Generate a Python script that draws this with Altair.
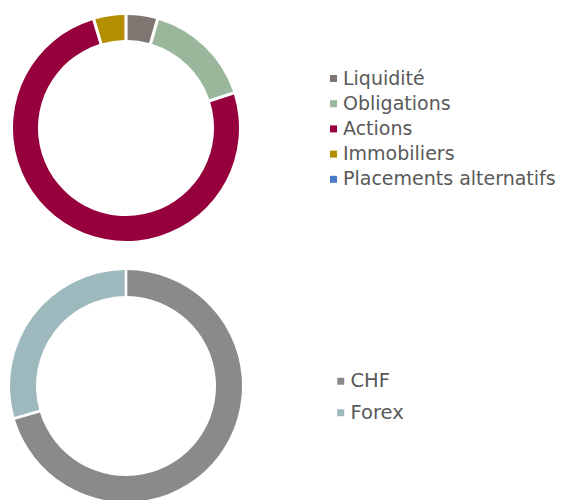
import altair as alt
import pandas as pd

alloc_cats = ["Liquidité", "Obligations", "Actions", "Immobiliers", "Placements alternatifs"]
alloc_vals = [4.5, 15.5, 75.4, 4.6, 0.0]
alloc_colors = ["#7f7672", "#9bb79b", "#96003c", "#b38f00", "#4a7bc8"]

cur_cats = ["CHF", "Forex"]
cur_vals = [70.5, 29.5]
cur_colors = ["#8a8a8a", "#9eb9bd"]

df_alloc = pd.DataFrame({"cat": alloc_cats, "val": alloc_vals, "idx": range(len(alloc_cats))})
df_cur = pd.DataFrame({"cat": cur_cats, "val": cur_vals, "idx": range(len(cur_cats))})

FONT = "DejaVu Sans"

def legend(x, y, row_pad, offset, fs):
    return alt.Legend(
        title=None, orient="none", legendX=x, legendY=y,
        symbolType="square", symbolSize=49, symbolStrokeWidth=0,
        labelFont=FONT, labelFontSize=fs, labelColor="#595959", labelLimit=0,
        rowPadding=row_pad, labelOffset=offset, padding=0,
    )

top = alt.Chart(df_alloc).mark_arc(radius=113, radius2=88, padAngle=0.022).encode(
    theta=alt.Theta("val:Q", stack=True),
    order=alt.Order("idx:Q"),
    color=alt.Color("cat:N", scale=alt.Scale(domain=alloc_cats, range=alloc_colors),
                    sort=alloc_cats, legend=legend(316, 61, 5.2, 0, 19)),
    x=alt.value(118), y=alt.value(120),
)

bottom = alt.Chart(df_cur).mark_arc(radius=116, radius2=90, padAngle=0.018).encode(
    theta=alt.Theta("val:Q", stack=True),
    order=alt.Order("idx:Q"),
    color=alt.Color("cat:N", scale=alt.Scale(domain=cur_cats, range=cur_colors),
                    sort=cur_cats, legend=legend(323, 363.5, 10.5, 0, 19.5)),
    x=alt.value(118), y=alt.value(378),
)

chart = alt.layer(top, bottom).resolve_scale(color="independent", theta="independent").properties(
    width=553, height=492, padding=0, autosize="none"
).configure_view(stroke=None)

chart.save("out.html", embed_options={"renderer": "svg", "actions": False})
